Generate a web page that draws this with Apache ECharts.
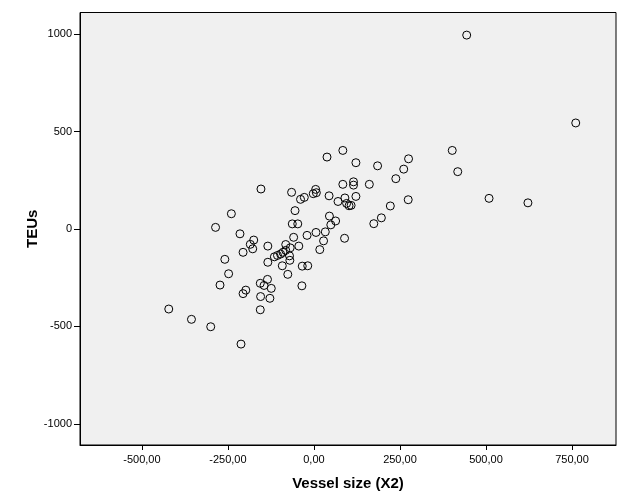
<!DOCTYPE html>
<html>
<head>
<meta charset="utf-8">
<script src="https://cdn.jsdelivr.net/npm/echarts@6/dist/echarts.min.js"></script>
<style>html,body{margin:0;padding:0;background:#fff;}#c{width:629px;height:504px;}</style>
</head>
<body>
<div id="c"></div>
<script>
// Vessel size (X2) values
const vesselSize = [444, 761, 402, 84, 38, 122, 185, 275, 261, 418, 238, 161, 84, 115, 115, 5, -2, 7, -28, -39,
  -65, -154, 44, 90, 122, 70, 95, 102, 108, 274, 509, 622, 222, 196, 174, -55, -63, -47, -240, -286,
  -215, 45, 63, 49, -20, -59, 6, 33, 28, 89, 17, -175, -185, -178, -134, -206, -82, -69, -44, -115,
  -106, -97, -90, -82, -71, -70, -134, -92, -34, -18, -259, -248, -76, -273, -135, -156, -145, -35, -198, -206,
  -124, -155, -128, -156, -422, -356, -300, -212];
// TEUs values
const teus = [995, 544, 403, 403, 369, 340, 324, 360, 307, 294, 258, 229, 229, 242, 225, 203, 181, 186, 162, 152,
  188, 205, 170, 159, 167, 141, 131, 119, 121, 150, 157, 134, 118, 57, 27, 94, 26, 26, 78, 8,
  -25, 66, 41, 21, -33, -43, -18, -15, -61, -48, -106, -57, -79, -102, -88, -120, -80, -97, -88, -143,
  -136, -129, -120, -110, -138, -161, -171, -189, -191, -189, -156, -230, -233, -288, -259, -279, -290, -292, -314, -332,
  -305, -347, -356, -415, -411, -464, -502, -591];
const xTicks = [-500, -250, 0, 250, 500, 750];
const yTicks = [-1000, -500, 0, 500, 1000];

const points = vesselSize.map((x, i) => [x, teus[i]]);
const chart = echarts.init(document.getElementById('c'), null, {renderer: 'canvas'});
const font = 'Liberation Sans, Arial, sans-serif';
chart.setOption({
  animation: false,
  grid: {left: 80, top: 12.5, right: 13, bottom: 59, show: true, backgroundColor: '#f0f0f0', borderColor: '#000', borderWidth: 1},
  xAxis: {
    type: 'value', min: -680, max: 878,
    name: 'Vessel size (X2)', nameLocation: 'middle', nameGap: 31, nameMoveOverlap: false,
    nameTextStyle: {fontFamily: font, fontSize: 15, fontWeight: 'bold', color: '#000'},
    axisLine: {show: true, onZero: false, lineStyle: {color: '#000', width: 1}},
    axisTick: {show: true, length: 5, lineStyle: {color: '#000'}, customValues: xTicks},
    axisLabel: {fontFamily: font, fontSize: 11, color: '#000', margin: 9, customValues: xTicks,
      formatter: v => v.toFixed(2).replace('.', ',')},
    splitLine: {show: false}
  },
  yAxis: {
    type: 'value', min: -1109, max: 1111,
    name: 'TEUs', nameLocation: 'middle', nameGap: 40, nameMoveOverlap: false,
    nameTextStyle: {fontFamily: font, fontSize: 15, fontWeight: 'bold', color: '#000'},
    axisLine: {show: true, onZero: false, lineStyle: {color: '#000', width: 1}},
    axisTick: {show: true, length: 6, lineStyle: {color: '#000'}, customValues: yTicks},
    axisLabel: {fontFamily: font, fontSize: 11, color: '#000', margin: 8, customValues: yTicks,
      formatter: v => String(v)},
    splitLine: {show: false}
  },
  series: [{
    type: 'scatter',
    data: points,
    symbol: 'circle',
    symbolSize: 8,
    itemStyle: {color: 'rgba(0,0,0,0)', borderColor: '#000', borderWidth: 1, opacity: 1}
  }]
});
</script>
</body>
</html>
